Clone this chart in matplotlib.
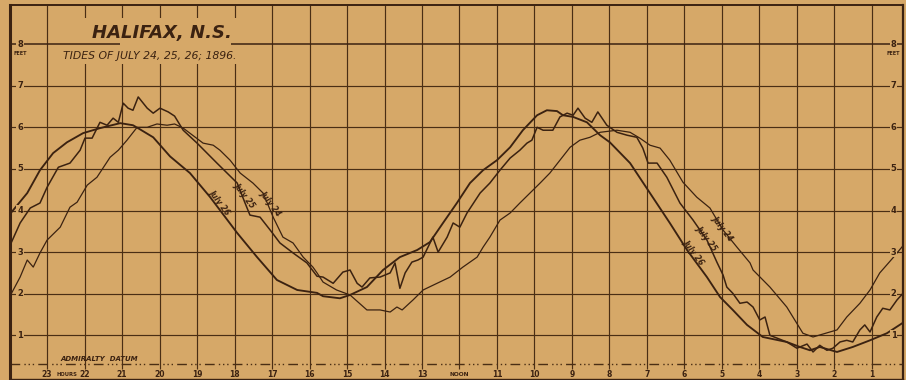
# -*- coding: utf-8 -*-
"""
Halifax, N.S. - tide gauge curves for July 24, 25, 26; 1896
Redraw of the old plate: hours run 23 -> 1 from left to right.
"""

import matplotlib
matplotlib.use("Agg")
import matplotlib.pyplot as plt
from matplotlib.patches import Rectangle

# ==========================
# Data
# ==========================
HOUR_TICKS = list(range(23, 0, -1))
HOUR_LABELS = ["NOON" if h == 12 else str(h) for h in HOUR_TICKS]
FEET_TICKS = [1, 2, 3, 4, 5, 6, 7, 8]
DATUM_FEET = 0.31

JULY26_HOURS = [23.95, 23.53, 23.19, 22.84, 22.47, 22.04, 21.59, 21.05, 20.71, 20.52,
                20.17, 19.72, 19.19, 18.65, 17.93, 17.4, 16.87, 16.33, 15.8, 15.64,
                15.19, 14.92, 14.47, 14.04, 13.59, 13.13, 12.79, 12.44, 12.07, 11.72,
                11.37, 11.0, 10.65, 10.31, 9.93, 9.67, 9.4, 9.24, 8.97, 8.6,
                8.25, 7.99, 7.45, 6.92, 6.39, 5.93, 5.4, 5.05, 4.71, 4.33,
                3.91, 3.27, 2.92, 2.65, 2.39, 1.93, 1.51, 1.05, 0.6, 0.09]
JULY26_FEET = [3.96, 4.42, 4.97, 5.38, 5.64, 5.86, 5.98, 6.10, 6.05, 5.95,
               5.76, 5.30, 4.90, 4.32, 3.46, 2.88, 2.33, 2.09, 2.02, 1.94,
               1.89, 1.97, 2.16, 2.57, 2.88, 3.05, 3.24, 3.70, 4.18, 4.66,
               4.97, 5.21, 5.52, 5.93, 6.29, 6.41, 6.39, 6.29, 6.25, 6.12,
               5.81, 5.64, 5.14, 4.42, 3.70, 3.05, 2.40, 1.92, 1.61, 1.25,
               0.96, 0.84, 0.72, 0.64, 0.72, 0.60, 0.72, 0.88, 1.05, 1.35]

JULY25_HOURS = [23.95, 23.72, 23.45, 23.19, 23.0, 22.7, 22.39, 22.12, 21.99, 21.8,
                21.59, 21.4, 21.24, 21.1, 20.97, 20.84, 20.71, 20.57, 20.33, 20.17,
                19.99, 19.77, 19.6, 19.37, 19.0, 18.47, 17.93, 17.72, 17.59, 17.32,
                17.05, 16.79, 16.44, 16.07, 15.8, 15.64, 15.37, 15.11, 14.92, 14.73,
                14.6, 14.39, 14.12, 13.85, 13.72, 13.59, 13.45, 13.27, 13.11, 12.97,
                12.84, 12.71, 12.57, 12.33, 12.17, 11.99, 11.8, 11.45, 11.19, 10.92,
                10.65, 10.39, 10.2, 10.07, 9.93, 9.77, 9.51, 9.32, 9.13, 8.97,
                8.84, 8.65, 8.47, 8.31, 8.07, 7.8, 7.53, 7.27, 7.11, 6.97,
                6.73, 6.47, 6.12, 5.77, 5.4, 5.13, 4.97, 4.87, 4.71, 4.52,
                4.33, 4.17, 3.99, 3.85, 3.72, 3.27, 3.0, 2.73, 2.57, 2.39,
                2.2, 2.04, 1.85, 1.67, 1.51, 1.32, 1.19, 1.05, 0.87, 0.71,
                0.52, 0.33, 0.09]
JULY25_FEET = [3.24, 3.70, 4.06, 4.18, 4.56, 5.04, 5.14, 5.45, 5.74, 5.74,
               6.12, 6.05, 6.22, 6.12, 6.58, 6.46, 6.41, 6.73, 6.46, 6.34,
               6.46, 6.37, 6.27, 5.93, 5.62, 5.14, 4.66, 4.18, 3.89, 3.84,
               3.53, 3.22, 2.98, 2.74, 2.42, 2.40, 2.25, 2.52, 2.57, 2.25,
               2.16, 2.38, 2.40, 2.50, 2.74, 2.13, 2.50, 2.76, 2.81, 2.88,
               3.12, 3.36, 3.00, 3.36, 3.70, 3.60, 3.94, 4.42, 4.66, 4.97,
               5.26, 5.45, 5.62, 5.69, 6.00, 5.93, 5.93, 6.25, 6.34, 6.29,
               6.46, 6.22, 6.12, 6.37, 6.05, 5.88, 5.81, 5.76, 5.50, 5.14,
               5.14, 4.80, 4.18, 3.77, 3.29, 2.75, 2.45, 2.16, 2.01, 1.77,
               1.80, 1.68, 1.37, 1.44, 1.00, 0.84, 0.69, 0.79, 0.60, 0.76,
               0.64, 0.69, 0.84, 0.88, 0.84, 1.13, 1.25, 1.08, 1.44, 1.65,
               1.61, 1.85, 2.09]

JULY24_HOURS = [23.95, 23.72, 23.53, 23.37, 23.19, 23.0, 22.65, 22.39, 22.2, 21.93,
                21.67, 21.32, 21.1, 20.87, 20.6, 20.33, 20.07, 19.8, 19.6, 19.37,
                18.84, 18.57, 18.39, 18.12, 17.85, 17.51, 17.24, 16.97, 16.71, 16.44,
                16.17, 15.91, 15.8, 15.64, 15.28, 14.92, 14.47, 14.12, 13.85, 13.67,
                13.53, 13.24, 12.97, 12.6, 12.25, 11.91, 11.53, 11.37, 11.19, 10.92,
                10.65, 10.39, 10.12, 9.85, 9.59, 9.32, 9.05, 8.79, 8.52, 8.25,
                7.8, 7.45, 7.19, 6.92, 6.65, 6.39, 6.04, 5.67, 5.32, 4.97,
                4.6, 4.25, 4.17, 3.72, 3.27, 2.84, 2.57, 2.12, 1.93, 1.67,
                1.32, 1.05, 0.79, 0.44, 0.09]
JULY24_FEET = [2.01, 2.40, 2.81, 2.64, 2.98, 3.29, 3.60, 4.08, 4.20, 4.61,
               4.80, 5.28, 5.45, 5.69, 6.00, 6.00, 6.08, 6.05, 6.08, 5.98,
               5.62, 5.57, 5.45, 5.21, 4.90, 4.66, 4.42, 3.84, 3.36, 3.22,
               2.88, 2.64, 2.50, 2.28, 2.09, 1.97, 1.61, 1.61, 1.56, 1.68,
               1.61, 1.85, 2.09, 2.25, 2.40, 2.64, 2.88, 3.12, 3.36, 3.77,
               3.94, 4.18, 4.42, 4.66, 4.90, 5.21, 5.52, 5.69, 5.76, 5.88,
               5.93, 5.88, 5.74, 5.57, 5.50, 5.21, 4.68, 4.32, 4.06, 3.53,
               3.12, 2.74, 2.57, 2.16, 1.68, 1.05, 0.96, 1.08, 1.13, 1.44,
               1.77, 2.09, 2.50, 2.86, 3.24]

CURVE_LABELS = ["July 26", "July 25", "July 24"]

# ==========================
# Style
# ==========================
PAPER = "#D6A868"
INK = "#3B2211"
GRID_INK = "#4A2E14"

plt.rcParams["font.family"] = ["DejaVu Sans"]

fig = plt.figure(figsize=(9.06, 3.80), dpi=100, facecolor=PAPER)
ax = fig.add_axes([10 / 906, 1 / 380, 893 / 906, 374 / 380])
ax.set_facecolor(PAPER)
ax.set_xlim(23.99, 0.17)
ax.set_ylim(-0.05, 8.94)
ax.set_xticks([]); ax.set_yticks([])

for side, lw in (("left", 2.2), ("top", 1.4), ("right", 1.6), ("bottom", 1.0)):
    ax.spines[side].set_color(INK)
    ax.spines[side].set_linewidth(lw)

# ==========================
# Grid
# ==========================
ax.vlines(HOUR_TICKS, 0.2, 8.94, color=GRID_INK, lw=0.85, zorder=1)
ax.hlines(FEET_TICKS[:-1], 23.99, 0.17, color=GRID_INK, lw=0.85, zorder=1)

# blank patch behind the heading
ax.add_patch(Rectangle((17.72, 7.52), 4.53, 1.11, facecolor=PAPER, edgecolor="none", zorder=2))
ax.hlines([8, 8], [23.99, 18.1], [21.05, 0.17], color=INK, lw=1.1, zorder=3)

# admiralty datum (dash + dots)
ax.axhline(DATUM_FEET, color=GRID_INK, lw=1.0, ls=(0, (7, 3, 1, 2, 1, 2, 1, 3)), zorder=1)
ax.text(21.6, DATUM_FEET + 0.06, "ADMIRALTY  DATUM", fontsize=5, style="italic", fontweight="bold",
        color=INK, ha="center", va="bottom", zorder=4)

# feet labels both sides
for v in FEET_TICKS:
    for h in (23.72, 0.42):
        ax.text(h, v, str(v), fontsize=6, fontweight="bold", color=INK, ha="center", va="center",
                zorder=4, bbox=dict(facecolor=PAPER, edgecolor="none", pad=0.6))
for h in (23.72, 0.42):
    ax.text(h, 7.78, "FEET", fontsize=3.5, fontweight="bold", color=INK, ha="center", va="center", zorder=4)

# hour labels along the bottom
for h, lab in zip(HOUR_TICKS, HOUR_LABELS):
    ax.text(h, 0.07, lab, fontsize=4.2 if lab == "NOON" else 5.5, fontweight="bold",
            color=INK, ha="center", va="center", zorder=4)
ax.text(22.48, 0.07, "HOURS", fontsize=3.8, fontweight="bold", color=INK, ha="center", va="center")

# ==========================
# Tide curves
# ==========================
ax.plot(JULY26_HOURS, JULY26_FEET, color=INK, lw=1.35, zorder=3)
ax.plot(JULY25_HOURS, JULY25_FEET, color=INK, lw=1.1, zorder=3)
ax.plot(JULY24_HOURS, JULY24_FEET, color=INK, lw=0.9, zorder=3)

label_spots = [((18.41, 4.20), (5.75, 3.00)),
               ((17.72, 4.37), (5.40, 3.34)),
               ((17.03, 4.18), (4.97, 3.58))]
for lab, spots in zip(CURVE_LABELS, label_spots):
    for (h, v) in spots:
        ax.text(h, v, lab, fontsize=5.5, style="italic", fontweight="bold", color=INK,
                rotation=-53, rotation_mode="anchor", ha="center", va="center", zorder=4)

# ==========================
# Heading
# ==========================
ax.text(19.93, 8.26, "HALIFAX, N.S.", fontsize=13, style="italic", fontweight="bold",
        color=INK, ha="center", va="center", zorder=4)
ax.text(20.25, 7.71, "TIDES OF JULY 24, 25, 26; 1896.", fontsize=7.8, style="italic",
        color=INK, ha="center", va="center", zorder=4)

fig.savefig("out.png", dpi=100, facecolor=PAPER)
